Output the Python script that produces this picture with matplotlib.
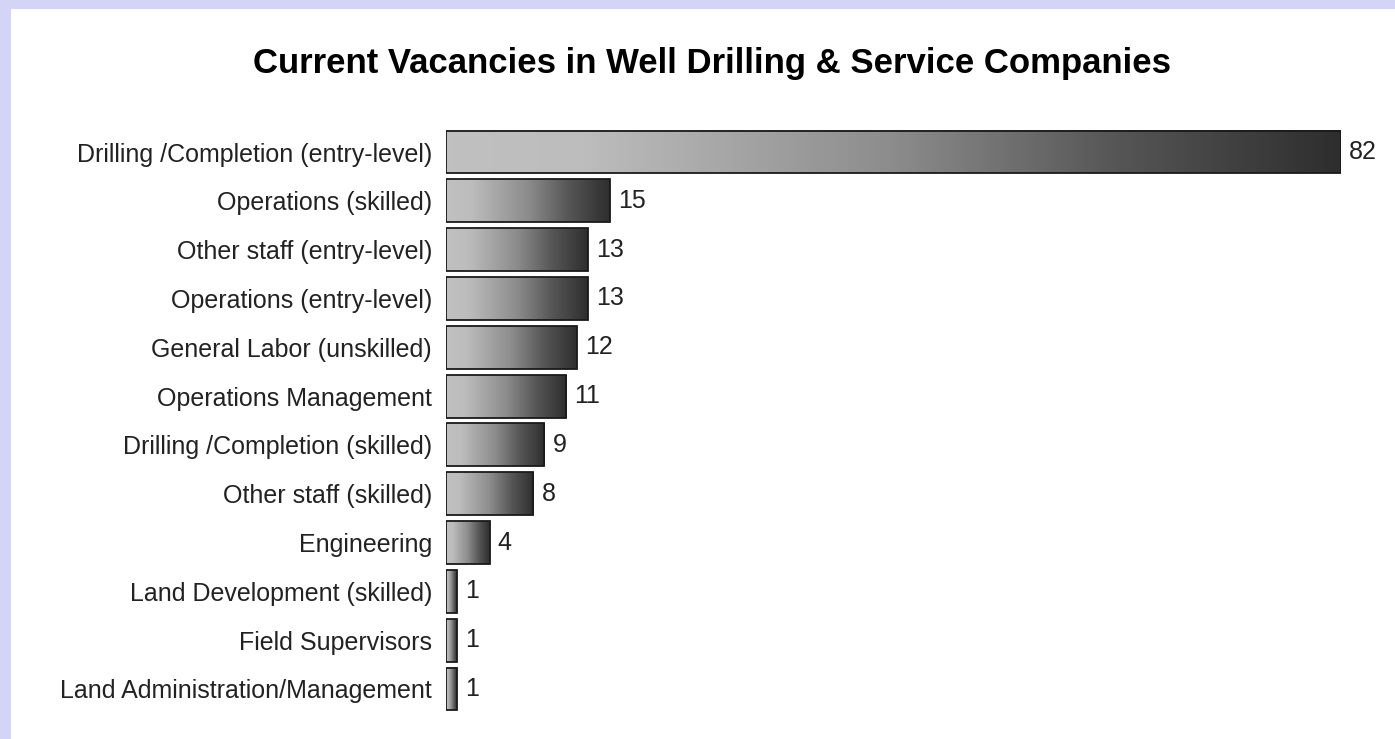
import matplotlib
matplotlib.use("Agg")
import matplotlib.pyplot as plt
import numpy as np
from matplotlib.colors import LinearSegmentedColormap

plt.rcParams['font.family'] = ['Liberation Sans', 'DejaVu Sans']

categories = [
    "Drilling /Completion (entry-level)",
    "Operations (skilled)",
    "Other staff (entry-level)",
    "Operations (entry-level)",
    "General Labor (unskilled)",
    "Operations Management",
    "Drilling /Completion (skilled)",
    "Other staff (skilled)",
    "Engineering",
    "Land Development (skilled)",
    "Field Supervisors",
    "Land Administration/Management",
]
vacancies = [82, 15, 13, 13, 12, 11, 9, 8, 4, 1, 1, 1]
title = "Current Vacancies in Well Drilling & Service Companies"

fig = plt.figure(figsize=(13.95, 7.39), dpi=100)
fig.patch.set_facecolor("#d4d4f7")
# white panel behind everything
panel = plt.Rectangle((11 / 1395, 0), 1 - 11 / 1395, 1 - 9 / 739,
                      transform=fig.transFigure, facecolor="white",
                      edgecolor="none", zorder=-10)
fig.patches.append(panel)

ax = fig.add_axes([446 / 1395, 1 - 713.4 / 739, (1341 - 446) / 1395, (713.4 - 127.6) / 739])
ax.set_facecolor("none")
ax.set_zorder(1)

y = np.arange(len(categories))
bars = ax.barh(y, vacancies, height=0.88, color="none", edgecolor="#1a1a1a", linewidth=1.3, zorder=3)

# gradient fill for each bar, light on the left, dark on the right
cmap = LinearSegmentedColormap.from_list(
    "grey", [(0, "#c0c0c0"), (0.15, "#bdbdbd"), (0.5, "#8c8c8c"), (0.75, "#565656"), (1, "#2e2e2e")])
grad = np.linspace(0, 1, 256).reshape(1, -1)
for b in bars:
    x0, y0 = b.get_x(), b.get_y()
    w, h = b.get_width(), b.get_height()
    ax.imshow(grad, cmap=cmap, aspect="auto", extent=(x0, x0 + w, y0 + h, y0),
              interpolation="bicubic", zorder=2)

for yi, v in zip(y, vacancies):
    ax.text(v + 0.75, yi, str(v), va="center", ha="left", fontsize=18, color="#222222")

ax.set_xlim(0, 82)
ax.set_ylim(len(categories) - 0.5, -0.5)
ax.set_yticks(y)
ax.set_yticklabels(categories, fontsize=18, color="#222222")
ax.tick_params(axis="y", length=0, pad=10)
ax.set_xticks([])
for s in ax.spines.values():
    s.set_visible(False)

fig.text(712 / 1395, 1 - 63 / 739, title, ha="center", va="center",
         fontsize=25, fontweight="bold", color="black")

fig.savefig("out.png", dpi=100)
